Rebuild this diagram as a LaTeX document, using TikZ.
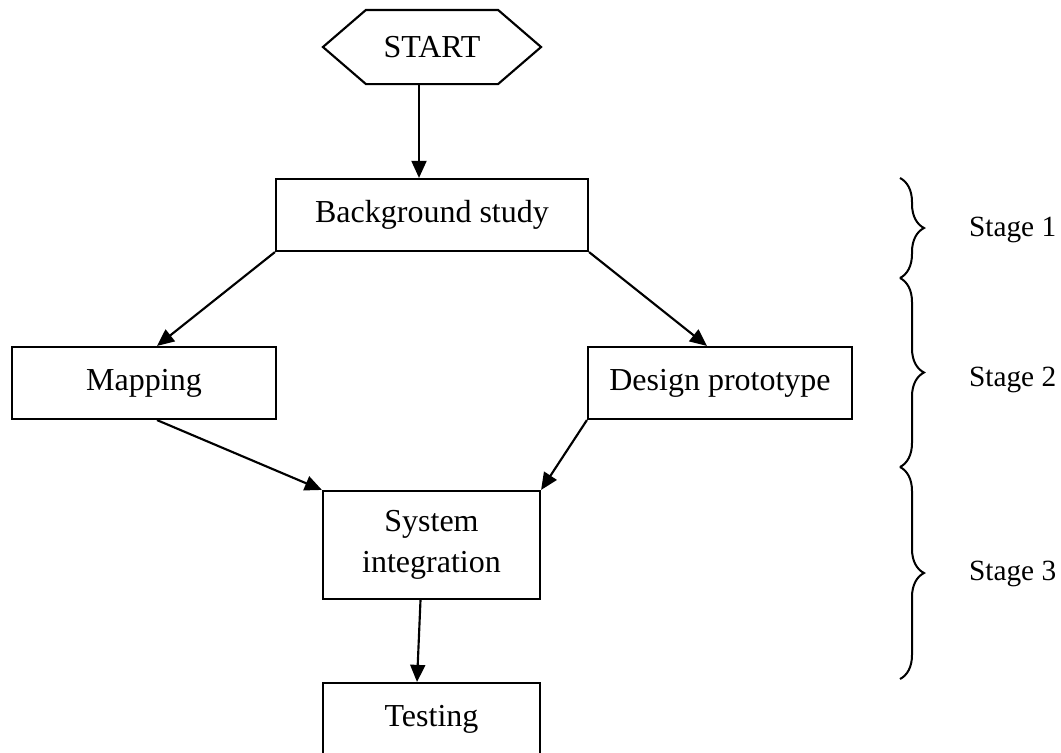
\documentclass[tikz,border=0pt]{standalone}
\usepackage{fontspec}
\setmainfont{Liberation Serif}
\usetikzlibrary{arrows.meta, positioning, calc, decorations.pathreplacing}

\begin{document}
\begin{tikzpicture}[
    x=0.375pt, y=0.375pt,
    >={Triangle[length=6.4pt, width=5.6pt]}, line width=0.8pt,
    process/.style={rectangle, draw=black, line width=0.8pt, minimum height=27pt, align=center, inner sep=0pt, font=\fontsize{12}{15.4}\selectfont},
    terminal/.style={rectangle, minimum width=81pt, minimum height=27pt, inner sep=0pt, font=\fontsize{12}{15.4}\selectfont},
    stagebrace/.style={decorate, decoration={brace, amplitude=9pt}, line width=0.75pt},
    stage/.style={anchor=west, inner sep=0pt, font=\fontsize{11}{13}\selectfont}
]
\useasboundingbox (0,0) rectangle (1061,-752);

% Flow
\node[terminal] (start) at (432,-47) {START};
\draw (start.west) -- ($(start.north west)+(43,0)$) -- ($(start.north east)+(-43,0)$) -- (start.east)
   -- ($(start.south east)+(-43,0)$) -- ($(start.south west)+(43,0)$) -- cycle;

\node[process, minimum width=117pt] (bg) at (432,-215) {Background study};
\node[process, minimum width=99pt] (map) at (144,-383) {Mapping};
\node[process, minimum width=99pt] (proto) at (720,-383) {Design prototype};
\node[process, minimum width=81.4pt, minimum height=40.5pt] (integ) at (431.5,-545) {System\\integration};
\node[process, minimum width=81.4pt] (test) at (431.5,-719) {Testing};

% Connections
\coordinate (s1) at ($(start.south)+(-13,0)$);
\draw[->] (s1) -- (s1 |- bg.north);
\draw[->] (bg.south west) -- ($(map.north)+(13,0)$);
\draw[->] (bg.south east) -- ($(proto.north)+(-13,0)$);
\draw[->] ($(map.south)+(13,0)$) -- (integ.north west);
\draw[->] (proto.south west) -- (integ.north east);
\draw[->] ($(integ.south)+(-11,0)$) -- ($(test.north)+(-14.5,0)$);

% Stages
\coordinate (b0) at (900,-178);
\coordinate (b1) at (900,-278);
\coordinate (b2) at (900,-467);
\coordinate (b3) at (900,-679);
\draw[stagebrace] (b0) -- (b1);
\draw[stagebrace] (b1) -- (b2);
\draw[stagebrace] (b2) -- (b3);
\node[stage] (stage1) at (968,-230) {Stage 1};
\node[stage] (stage2) at (968,-380) {Stage 2};
\node[stage] (stage3) at (968,-574) {Stage 3};

\end{tikzpicture}
\end{document}
